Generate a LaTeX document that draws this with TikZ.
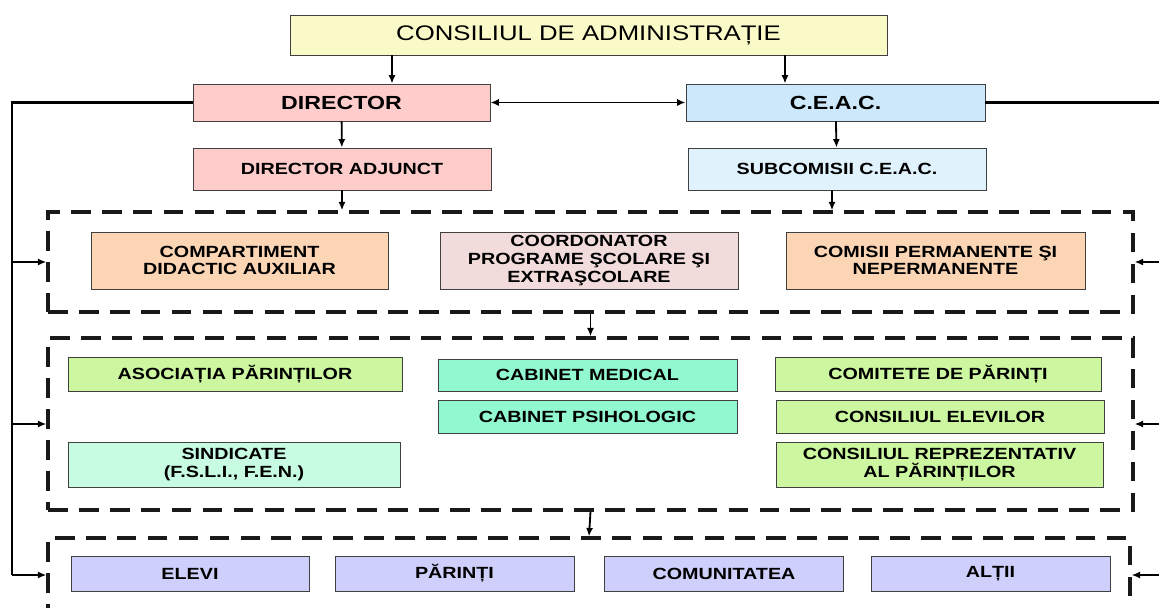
\documentclass[tikz,border=0pt]{standalone}
\usepackage{fontspec}
\setmainfont{Liberation Sans}[FakeStretch=1.22]
\usepackage{tikz}
\usetikzlibrary{arrows.meta, calc, positioning, shadows}
\usepackage{xcolor}
\definecolor{AdmYellow}{HTML}{FAFAC8}
\definecolor{DirPink}{HTML}{FFCCCC}
\definecolor{CeacBlue}{HTML}{CCE8FA}
\definecolor{SubBlue}{HTML}{E0F3FD}
\definecolor{CompOrange}{HTML}{FBD5B4}
\definecolor{CoordPink}{HTML}{F2DCDB}
\definecolor{ParGreen}{HTML}{CCF7A0}
\definecolor{SindMint}{HTML}{C8FCE2}
\definecolor{CabAqua}{HTML}{92F8CF}
\definecolor{ComLavender}{HTML}{CFCFFC}
\newcommand{\px}{0.025cm}
\tikzstyle{box} = [rectangle, draw=black!75, line width=0.6pt, align=center,
inner sep=0pt, font=\bfseries\fontsize{11.5}{12.5}\selectfont,
drop shadow={shadow xshift=0.6pt, shadow yshift=-0.6pt, opacity=0.55, fill=black}]
\tikzstyle{group} = [rectangle, draw=black!90, line width=2.3pt, dash pattern=on 14pt off 8pt]
\tikzstyle{link} = [-{Latex[length=6pt,width=5pt]}, line width=1.3pt]
\tikzstyle{bus} = [line width=1.9pt]
\tikzset{boxsize/.style 2 args={minimum width=#1*\px, minimum height=#2*\px}}

\begin{document}
\begin{tikzpicture}[x=0.025cm, y=-0.025cm]
   \useasboundingbox (0,0) rectangle (1159,607);
   % conducere
   \node[box, fill=AdmYellow, boxsize={597}{40},
    font=\fontsize{15}{18}\selectfont] (admin) at (588.5,35) {CONSILIUL DE ADMINISTRAȚIE};
   \node[box, fill=DirPink, boxsize={297}{37},
    font=\bfseries\fontsize{13.5}{15}\selectfont] (director) at (341.5,102.5) {DIRECTOR};
   \node[box, fill=CeacBlue, boxsize={299}{37},
    font=\bfseries\fontsize{13.5}{15}\selectfont] (ceac) at (835.5,102.5) {C.E.A.C.};
   \node[box, fill=DirPink, boxsize={298}{42}] (adjunct) at (342,169) {DIRECTOR ADJUNCT};
   \node[box, fill=SubBlue, boxsize={298}{42}] (subceac) at (837,169) {SUBCOMISII C.E.A.C.};
   % grupuri
   \node[group, boxsize={1085}{100}] (grp1) at (590.5,262) {};
   \node[group, boxsize={1085}{172}] (grp2) at (590.5,424) {};
   \node[group, boxsize={1082}{90}] (grp3) at (589,583) {};
   \node[box, fill=CompOrange, boxsize={297}{57}] (compart) at (239.5,260.5)
    {COMPARTIMENT\\DIDACTIC AUXILIAR};
   \node[box, fill=CoordPink, boxsize={298}{57}] (coord) at (589,260.5)
    {COORDONATOR\\PROGRAME ŞCOLARE ŞI\\EXTRAŞCOLARE};
   \node[box, fill=CompOrange, boxsize={299}{57}] (comisii) at (935.5,260.5)
    {COMISII PERMANENTE ŞI\\NEPERMANENTE};
   \node[box, fill=ParGreen, boxsize={334}{34}] (asoc) at (235,374) {ASOCIAȚIA PĂRINȚILOR};
   \node[box, fill=SindMint, boxsize={332}{45}] (sindic) at (234,464.5)
    {SINDICATE\\(F.S.L.I., F.E.N.)};
   \node[box, fill=CabAqua, boxsize={299}{32}] (cabmed) at (587.5,375) {CABINET MEDICAL};
   \node[box, fill=CabAqua, boxsize={299}{33}] (cabpsi) at (587.5,416.5) {CABINET PSIHOLOGIC};
   \node[box, fill=ParGreen, boxsize={326}{34}] (comitete) at (938,374) {COMITETE DE PĂRINȚI};
   \node[box, fill=ParGreen, boxsize={328}{33}] (elevcons) at (940,416.5) {CONSILIUL ELEVILOR};
   \node[box, fill=ParGreen, boxsize={327}{45}] (reprez) at (939.5,464.5)
    {CONSILIUL REPREZENTATIV\\AL PĂRINȚILOR};
   \node[box, fill=ComLavender, boxsize={238}{35}] (elevi) at (190,573.5) {ELEVI};
   \node[box, fill=ComLavender, boxsize={239}{35}] (parinti) at (454.5,573.5) {PĂRINȚI};
   \node[box, fill=ComLavender, boxsize={239}{35}] (comunit) at (724,573.5) {COMUNITATEA};
   \node[box, fill=ComLavender, boxsize={239}{35}] (altii) at (990.5,573.5) {ALȚII};
   % sageti
   \draw[link] ([xshift=-196.5*\px]admin.south) coordinate (a1) -- (a1 |- director.north);
   \draw[link] ([xshift=196.5*\px]admin.south) coordinate (a2) -- (a2 |- ceac.north);
   \draw[link, {Latex[length=6pt,width=5pt]}-{Latex[length=6pt,width=5pt]}] (director) -- (ceac);
   \draw[link] (director) -- (adjunct);
   \draw[link] (ceac) -- (subceac);
   \draw[link] (adjunct.south) -- (adjunct.south |- grp1.north);
   \draw[link] ([xshift=-5*\px]subceac.south) coordinate (s1) -- (s1 |- grp1.north);
   \draw[link] (grp1.south) -- (grp2.north);
   \draw[link] (grp2.south) -- (grp3.north);
   % linii laterale
   \coordinate (lbus) at (12,575);
   \coordinate (rbus) at (1163,575);
   \draw[bus] (director.west) -| (lbus);
   \draw[bus] (ceac.east) -| (rbus);
   \draw[link] (lbus |- grp1.west) -- (grp1.west);
   \draw[link] (lbus |- grp2.west) -- (grp2.west);
   \draw[link] (lbus) -- (lbus -| grp3.west);
   \draw[link] (rbus |- grp1.east) -- (grp1.east);
   \draw[link] (rbus |- grp2.east) -- (grp2.east);
   \draw[link] (rbus) -- (rbus -| grp3.east);
  \end{tikzpicture}
\end{document}
